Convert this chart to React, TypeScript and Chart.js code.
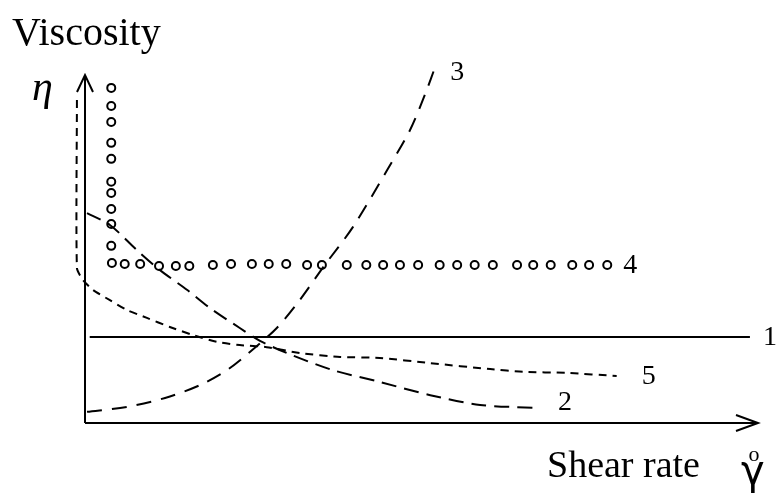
import React, { useEffect, useRef } from "react";
import { Chart, registerables } from "chart.js";

Chart.register(...registerables);

// Curve 1: Newtonian (constant viscosity)
const line1X = [0.7, 98.8];
const line1Y = [24.7, 24.7];

// Curve 2: shear thinning
const line2X = [0.3, 3.7, 7.7, 11.1, 15.2, 18.6, 23.0, 26.0, 30.0, 36.8, 43.8, 51.3, 58.7, 67.6];
const line2Y = [60.3, 56.9, 49.7, 44.0, 38.2, 33.0, 27.3, 23.6, 20.1, 15.2, 11.8, 8.0, 5.2, 4.3];

// Curve 3: shear thickening
const line3X = [0.3, 6.2, 11.9, 17.1, 21.1, 24.5, 28.5, 31.9, 35.4, 39.8, 44.9, 48.3, 50.5, 52.2];
const line3Y = [3.2, 4.6, 7.2, 10.9, 15.2, 20.4, 27.3, 35.3, 44.8, 56.3, 72.7, 84.2, 94.3, 103.2];

// Curve 4: Bingham (yield stress) – circles
const line4X = [
  3.9, 3.9, 3.9, 3.9, 3.9, 3.9, 3.9, 3.9, 3.9, 3.9, 4.0,
  5.9, 8.2, 11.0, 13.5, 15.5, 19.0, 21.7, 24.8, 27.3, 29.9, 33.0, 35.2, 38.9, 41.8,
  44.3, 46.8, 49.5, 52.7, 55.3, 57.9, 60.6, 64.2, 66.6, 69.2, 72.4, 74.9, 77.6,
];
const line4Y = [
  96.3, 91.1, 86.5, 80.5, 75.9, 69.3, 66.1, 61.5, 57.2, 50.9, 46.0,
  45.7, 45.7, 45.1, 45.1, 45.1, 45.4, 45.7, 45.7, 45.7, 45.7, 45.4, 45.4, 45.4, 45.4,
  45.4, 45.4, 45.4, 45.4, 45.4, 45.4, 45.4, 45.4, 45.4, 45.4, 45.4, 45.4, 45.4,
];

// Curve 5: yield + shear thinning
const line5X = [-1.2, -1.2, -0.3, 1.2, 3.7, 6.2, 9.2, 12.6, 16.0, 19.6, 23.0, 27.0, 31.9, 37.9, 43.8, 51.3, 60.2, 65.1, 71.6, 79.0];
const line5Y = [92.8, 44.5, 41.1, 38.2, 35.3, 32.5, 30.2, 27.6, 25.3, 23.3, 22.4, 21.8, 20.1, 19.0, 18.7, 17.2, 15.5, 14.7, 14.4, 13.5];

const curveLabels = ["1", "2", "3", "4", "5"];
const yTitle = "Viscosity";
const ySymbol = "η";
const xTitle = "Shear rate";
const xSymbol = "γ";

const toPts = (xs: number[], ys: number[]) => xs.map((x, i) => ({ x, y: ys[i] }));

export default function App() {
  const ref = useRef<HTMLCanvasElement | null>(null);

  useEffect(() => {
    if (!ref.current) return;
    const black = "#000";

    const decor = {
      id: "decor",
      afterDatasetsDraw(chart: any) {
        const ctx = chart.ctx as CanvasRenderingContext2D;
        const xs = chart.scales.x;
        const ys = chart.scales.y;
        const x0 = xs.getPixelForValue(0);
        const y0 = ys.getPixelForValue(0);
        const xEnd = xs.getPixelForValue(100);
        const yEnd = ys.getPixelForValue(100);
        ctx.save();
        ctx.strokeStyle = black;
        ctx.lineWidth = 2;
        ctx.lineCap = "butt";
        // axes
        ctx.beginPath();
        ctx.moveTo(x0, y0);
        ctx.lineTo(x0, yEnd);
        ctx.moveTo(x0, y0);
        ctx.lineTo(xEnd, y0);
        ctx.stroke();
        // arrow heads
        ctx.beginPath();
        ctx.moveTo(x0 - 8, yEnd + 17);
        ctx.lineTo(x0, yEnd);
        ctx.lineTo(x0 + 8, yEnd + 17);
        ctx.moveTo(xEnd - 22, y0 - 8);
        ctx.lineTo(xEnd, y0);
        ctx.lineTo(xEnd - 22, y0 + 8);
        ctx.stroke();

        // titles
        ctx.fillStyle = black;
        ctx.textAlign = "left";
        ctx.textBaseline = "alphabetic";
        ctx.font = '40px "Liberation Serif"';
        ctx.fillText(yTitle, 12, 45);
        ctx.font = 'italic 42px "Liberation Serif"';
        ctx.fillText(ySymbol, 32, 100);
        ctx.font = '38px "Liberation Serif"';
        ctx.fillText(xTitle, 547, 477);
        ctx.font = '40px "DejaVu Sans"';
        ctx.fillText(xSymbol, 741, 484);
        ctx.font = '22px "Liberation Serif"';
        ctx.textAlign = "center";
        ctx.fillText("o", 754, 461);

        // curve labels, placed next to the end of each curve
        ctx.font = '28px "Liberation Serif"';
        ctx.textAlign = "left";
        ctx.textBaseline = "middle";
        const endPx = (xsArr: number[], ysArr: number[]) => ({
          x: xs.getPixelForValue(xsArr[xsArr.length - 1]),
          y: ys.getPixelForValue(ysArr[ysArr.length - 1]),
        });
        const e1 = endPx(line1X, line1Y);
        const e2 = endPx(line2X, line2Y);
        const e3 = endPx(line3X, line3Y);
        const e4 = endPx(line4X, line4Y);
        const e5 = endPx(line5X, line5Y);
        ctx.fillText(curveLabels[0], e1.x + 13, e1.y + 1);
        ctx.fillText(curveLabels[1], e2.x + 18, e2.y - 5);
        ctx.fillText(curveLabels[2], e3.x + 14, e3.y + 9);
        ctx.fillText(curveLabels[3], e4.x + 16, e4.y + 1);
        ctx.fillText(curveLabels[4], e5.x + 25, e5.y + 1);
        ctx.restore();
      },
    };

    const common = {
      showLine: true,
      borderColor: black,
      borderWidth: 2,
      pointRadius: 0,
      fill: false,
      clip: false as any,
    };

    const chart = new Chart(ref.current, {
      type: "scatter",
      data: {
        datasets: [
          { ...common, data: toPts(line1X, line1Y), tension: 0 },
          { ...common, data: toPts(line2X, line2Y), borderDash: [15, 8], tension: 0.3 },
          { ...common, data: toPts(line3X, line3Y), borderDash: [15, 10], tension: 0.3 },
          {
            data: toPts(line4X, line4Y),
            showLine: false,
            pointRadius: 4,
            pointBorderWidth: 2,
            pointBorderColor: black,
            pointBackgroundColor: "rgba(0,0,0,0)",
            pointStyle: "circle",
            clip: false as any,
          },
          { ...common, data: toPts(line5X, line5Y), borderDash: [8, 6], tension: 0.2 },
        ],
      },
      options: {
        animation: false,
        responsive: false,
        layout: { padding: { left: 71.54, right: 19, top: 57.6, bottom: 67.04 } },
        plugins: { legend: { display: false }, tooltip: { enabled: false } },
        events: [],
        scales: {
          x: { type: "linear", min: -2, max: 100, display: false },
          y: { type: "linear", min: -2, max: 105, display: false },
        },
      },
      plugins: [decor],
    });
    return () => chart.destroy();
  }, []);

  return (
    <div style={{ position: "absolute", left: 0, top: 0, width: 777, height: 497, background: "#fff" }}>
      <canvas ref={ref} width={777} height={497} style={{ display: "block" }} />
    </div>
  );
}
